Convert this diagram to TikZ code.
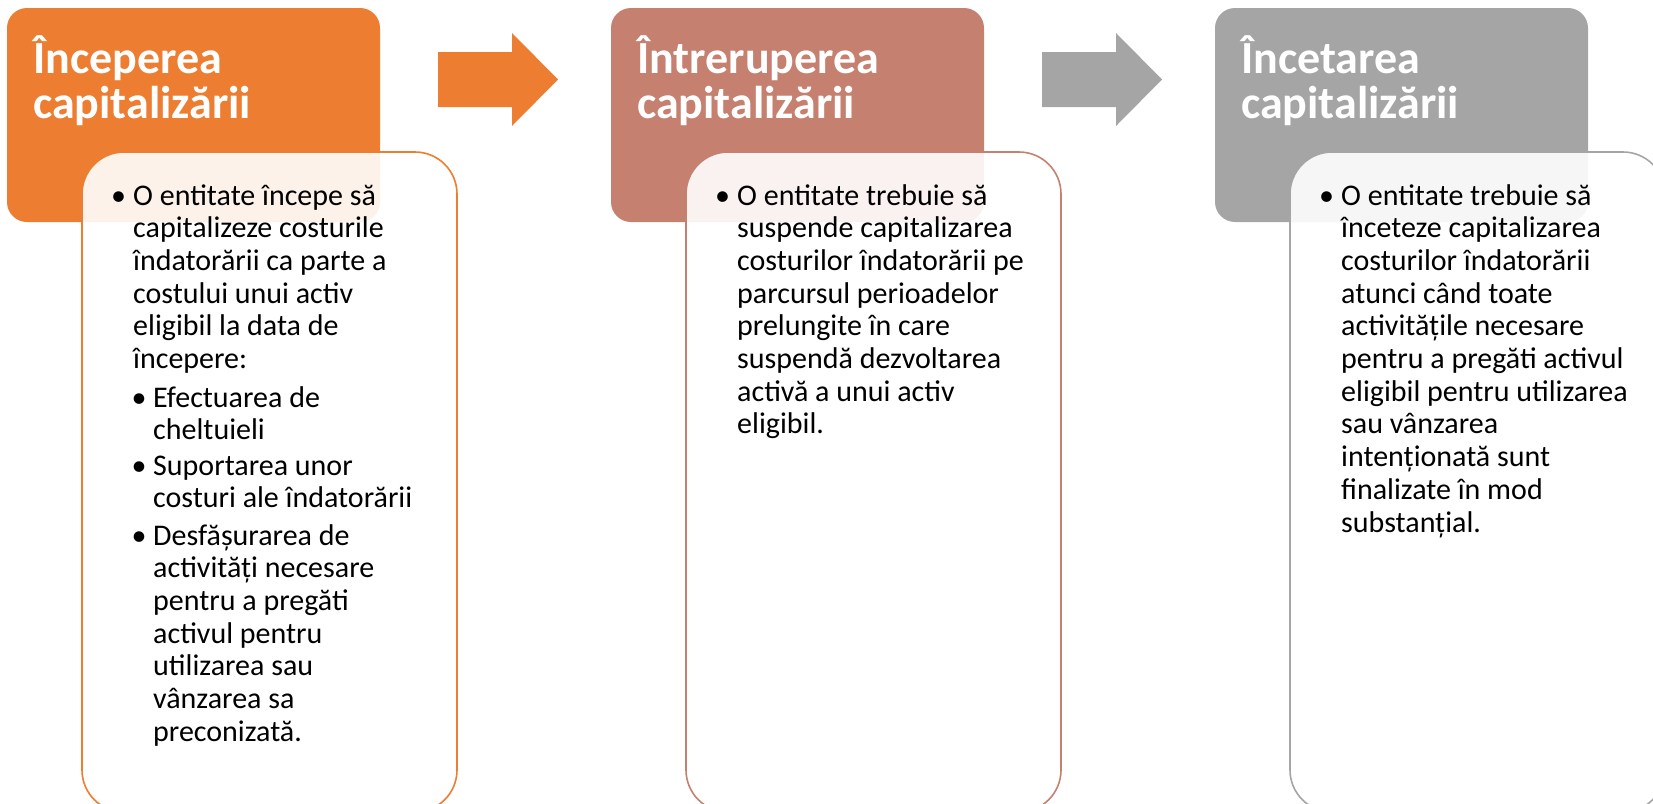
\documentclass[tikz,border=0pt]{standalone}
\usepackage{fontspec}
\setmainfont{Carlito}

\definecolor{orangeA}{HTML}{ED7D31}
\definecolor{roseA}{HTML}{C5806F}
\definecolor{greyA}{HTML}{A5A5A5}

\tikzset{
  headbox/.style={rounded corners=20pt, minimum width=373pt, minimum height=214pt, inner sep=0pt},
  bodybox/.style={fill=white, fill opacity=0.9, rounded corners=42pt, line width=1.6pt,
    minimum width=375pt, minimum height=660pt, inner sep=0pt},
  headtext/.style={anchor=base west, inner sep=0pt, text=white,
    font=\fontsize{46}{45}\selectfont\bfseries},
  bodytext/.style={anchor=base west, inner sep=0pt, font=\fontsize{30}{32.7}\selectfont},
  dot/.style={anchor=base, inner sep=0pt, font=\fontsize{30}{32.7}\selectfont},
}

\begin{document}
\begin{tikzpicture}[x=1pt,y=-1pt]
\useasboundingbox (0,0) rectangle (1653,803);
\clip (0,0) rectangle (1653,803);

% first step
\begin{scope}[shift={(0,0)}]
\node[headbox, fill=orangeA] (head1) at (193.5,115) {};
\node[headtext] (title1) at (33,73) {\parbox[t]{340pt}{Începerea\\capitalizării}};
\fill[orangeA] (438,52) -- (512,52) -- (512,33) -- (558,79.5) -- (512,126) -- (512,107) -- (438,107) -- cycle;
\node[bodybox, draw=orangeA] (body1) at (269.5,482) {};
\node[dot] (dot1) at (118.5,205) {•};
\node[bodytext] (text1) at (133,205) {\parbox[t]{330pt}{O entitate începe să\\capitalizeze costurile\\îndatorării ca parte a\\costului unui activ\\eligibil la data de\\începere:}};
\node[dot] (dot1a) at (139,407) {•};
\node[bodytext] (text1a) at (153,407) {\parbox[t]{310pt}{Efectuarea de\\cheltuieli}};
\node[dot] (dot1b) at (139,475) {•};
\node[bodytext] (text1b) at (153,475) {\parbox[t]{310pt}{Suportarea unor\\costuri ale îndatorării}};
\node[dot] (dot1c) at (139,545) {•};
\node[bodytext] (text1c) at (153,545) {\parbox[t]{310pt}{Desfășurarea de\\activități necesare\\pentru a pregăti\\activul pentru\\utilizarea sau\\vânzarea sa\\preconizată.}};
\end{scope}

% second step
\begin{scope}[shift={(604,0)}]
\node[headbox, fill=roseA] (head2) at (193.5,115) {};
\node[headtext] (title2) at (33,73) {\parbox[t]{340pt}{Întreruperea\\capitalizării}};
\fill[greyA] (438,52) -- (512,52) -- (512,33) -- (558,79.5) -- (512,126) -- (512,107) -- (438,107) -- cycle;
\node[bodybox, draw=roseA] (body2) at (269.5,482) {};
\node[dot] (dot2) at (118.5,205) {•};
\node[bodytext] (text2) at (133,205) {\parbox[t]{330pt}{O entitate trebuie să\\suspende capitalizarea\\costurilor îndatorării pe\\parcursul perioadelor\\prelungite în care\\suspendă dezvoltarea\\activă a unui activ\\eligibil.}};
\end{scope}

% third step
\begin{scope}[shift={(1208,0)}]
\node[headbox, fill=greyA] (head3) at (193.5,115) {};
\node[headtext] (title3) at (33,73) {\parbox[t]{340pt}{Încetarea\\capitalizării}};
\node[bodybox, draw=greyA] (body3) at (269.5,482) {};
\node[dot] (dot3) at (118.5,205) {•};
\node[bodytext] (text3) at (133,205) {\parbox[t]{330pt}{O entitate trebuie să\\înceteze capitalizarea\\costurilor îndatorării\\atunci când toate\\activitățile necesare\\pentru a pregăti activul\\eligibil pentru utilizarea\\sau vânzarea\\intenționată sunt\\finalizate în mod\\substanțial.}};
\end{scope}

\end{tikzpicture}
\end{document}
